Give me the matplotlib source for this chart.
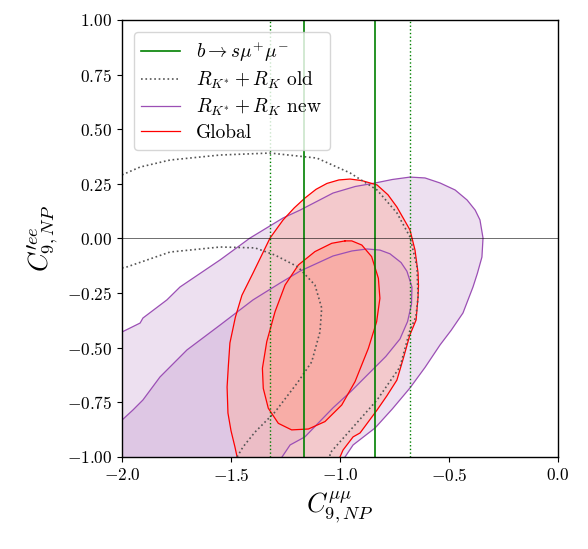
import matplotlib
matplotlib.use("Agg")
import matplotlib.pyplot as plt
from matplotlib.lines import Line2D

plt.rcParams.update({'font.family': 'serif',
                     'font.serif': ['cmr10', 'DejaVu Serif'],
                     'mathtext.fontset': 'cm',
                     'axes.formatter.use_mathtext': True,
                     'font.size': 12.5,
                     'axes.linewidth': 1.0})

# b -> s mu mu bands (1 sigma solid, 2 sigma dotted)
bsmm_1s = [-1.163, -0.839]
bsmm_2s = [-1.321, -0.679]

# RK* + RK new, 2 sigma contour
new2_x = [-2.10, -2.0, -1.917, -1.904, -1.794, -1.734, -1.550, -1.413, -1.261, -1.183, -1.032,
          -0.930, -0.839, -0.760, -0.679, -0.610, -0.541, -0.472, -0.417, -0.380, -0.358,
          -0.344, -0.349, -0.370, -0.390, -0.436, -0.490, -0.541, -0.610, -0.679, -0.760,
          -0.839, -0.940, -0.977, -0.99, -2.10]
new2_y = [-0.47, -0.428, -0.387, -0.364, -0.281, -0.222, -0.098, 0.002, 0.094, 0.130, 0.208,
          0.238, 0.254, 0.270, 0.281, 0.277, 0.254, 0.222, 0.176, 0.130, 0.085,
          0.002, -0.085, -0.160, -0.222, -0.341, -0.420, -0.487, -0.590, -0.684, -0.780,
          -0.867, -0.945, -1.0, -1.10, -1.10]

# RK* + RK new, 1 sigma contour
new1_x = [-2.10, -2.0, -1.950, -1.904, -1.826, -1.702, -1.550, -1.399, -1.275, -1.183, -1.032,
          -0.945, -0.876, -0.817, -0.771, -0.720, -0.693, -0.670, -0.672, -0.690, -0.725,
          -0.790, -0.860, -0.950, -1.032, -1.100, -1.161, -1.229, -1.266, -1.30, -2.10]
new1_y = [-0.86, -0.831, -0.785, -0.739, -0.634, -0.510, -0.396, -0.281, -0.204, -0.149, -0.080,
          -0.057, -0.048, -0.053, -0.070, -0.110, -0.150, -0.222, -0.300, -0.380, -0.460,
          -0.540, -0.610, -0.700, -0.775, -0.845, -0.908, -0.945, -1.0, -1.10, -1.10]

# global fit, 2 sigma
glob2_x = [-1.472, -1.482, -1.500, -1.514, -1.518, -1.512, -1.505, -1.480, -1.450, -1.399,
           -1.321, -1.261, -1.210, -1.161, -1.110, -1.060, -1.005, -0.954, -0.900, -0.830,
           -0.780, -0.739, -0.679, -0.656, -0.642, -0.640, -0.642, -0.651, -0.679, -0.710,
           -0.739, -0.785, -0.830, -0.908, -0.940, -0.986, -1.0, -1.0, -1.47]
glob2_y = [-1.0, -0.954, -0.880, -0.799, -0.680, -0.580, -0.478, -0.360, -0.260, -0.158,
           0.002, 0.085, 0.140, 0.185, 0.225, 0.252, 0.268, 0.272, 0.265, 0.245,
           0.200, 0.144, 0.039, -0.053, -0.158, -0.215, -0.268, -0.373, -0.440, -0.550,
           -0.648, -0.720, -0.785, -0.890, -0.908, -0.968, -1.0, -1.10, -1.10]

# global fit, 1 sigma
glob1_x = [-0.977, -1.038, -1.115, -1.191, -1.252, -1.298, -1.336, -1.356, -1.352, -1.329,
           -1.283, -1.222, -1.145, -1.069, -0.992, -0.931, -0.870, -0.832, -0.817, -0.824,
           -0.855, -0.900, -0.946]
glob1_y = [-0.011, -0.022, -0.060, -0.121, -0.213, -0.335, -0.472, -0.594, -0.686, -0.777,
           -0.846, -0.876, -0.872, -0.838, -0.762, -0.655, -0.503, -0.381, -0.274, -0.182,
           -0.083, -0.030, -0.011]

# RK* + RK old, dotted contours
old2_x = [-2.0, -1.917, -1.780, -1.550, -1.321, -1.106, -0.954, -0.830, -0.739, -0.679,
          -0.647, -0.642, -0.652, -0.679, -0.725, -0.830, -0.940, -1.046, -1.046]
old2_y = [0.291, 0.327, 0.359, 0.382, 0.391, 0.368, 0.300, 0.222, 0.117, 0.007,
          -0.130, -0.268, -0.359, -0.419, -0.588, -0.739, -0.863, -0.982, -1.0]
old1_x = [-2.0, -1.977, -1.780, -1.550, -1.390, -1.298, -1.193, -1.115, -1.084, -1.092,
          -1.130, -1.193, -1.298, -1.390, -1.445, -1.472]
old1_y = [-0.135, -0.130, -0.062, -0.039, -0.043, -0.076, -0.130, -0.213, -0.318, -0.428,
          -0.565, -0.657, -0.794, -0.886, -0.954, -1.0]

purple = '#9b4fb5'
purple_fill = '#a564b4'
red_outer_fill = '#fab4aa'
red_inner_fill = '#fcaaa0'

fig = plt.figure(figsize=(5.88, 5.49), dpi=100)
ax = fig.add_axes([0.2075, 0.1676, 0.7415, 0.796])

ax.fill(new2_x, new2_y, color=purple_fill, alpha=0.2, lw=0)
ax.fill(new1_x, new1_y, color=purple_fill, alpha=0.2, lw=0)
ax.fill(glob2_x, glob2_y, color=red_outer_fill, alpha=0.5, lw=0)
ax.fill(glob1_x, glob1_y, color=red_inner_fill, alpha=0.8, lw=0)

ax.plot(new2_x[1:-2], new2_y[1:-2], color=purple, lw=0.9)
ax.plot(new1_x[1:-2], new1_y[1:-2], color=purple, lw=0.9)
ax.plot(glob2_x[:-2], glob2_y[:-2], color='red', lw=0.9)
ax.plot(glob1_x + glob1_x[:1], glob1_y + glob1_y[:1], color='red', lw=0.9)

ax.plot(old2_x, old2_y, color='#555555', ls=':', lw=1.2)
ax.plot(old1_x, old1_y, color='#555555', ls=':', lw=1.2)

for xv in bsmm_1s:
    ax.axvline(xv, color='green', lw=1.2)
for xv in bsmm_2s:
    ax.axvline(xv, color='green', lw=1.0, ls=':')

ax.axhline(0, color='black', lw=0.5, alpha=0.8)

ax.set_xlim(-2, 0)
ax.set_ylim(-1, 1)
ax.set_xticks([-2.0, -1.5, -1.0, -0.5, 0.0])
ax.set_yticks([-1.0, -0.75, -0.5, -0.25, 0.0, 0.25, 0.5, 0.75, 1.0])
ax.set_xlabel(r'$C_{9,NP}^{\mu\mu}$', fontsize=19)
ax.set_ylabel(r'$C_{9,NP}^{\prime ee}$', fontsize=19)

handles = [Line2D([], [], color='green', lw=1.2),
           Line2D([], [], color='#555555', ls=':', lw=1.2),
           Line2D([], [], color=purple, lw=0.9),
           Line2D([], [], color='red', lw=0.9)]
labels = [r'$b\to s\mu^{+}\mu^{-}$', r'$R_{K^{*}}+R_{K}$ old',
          r'$R_{K^{*}}+R_{K}$ new', 'Global']
ax.legend(handles, labels, loc='upper left', fontsize=14, labelspacing=0.3,
          borderaxespad=0.6)

fig.savefig('out.png', dpi=100)
